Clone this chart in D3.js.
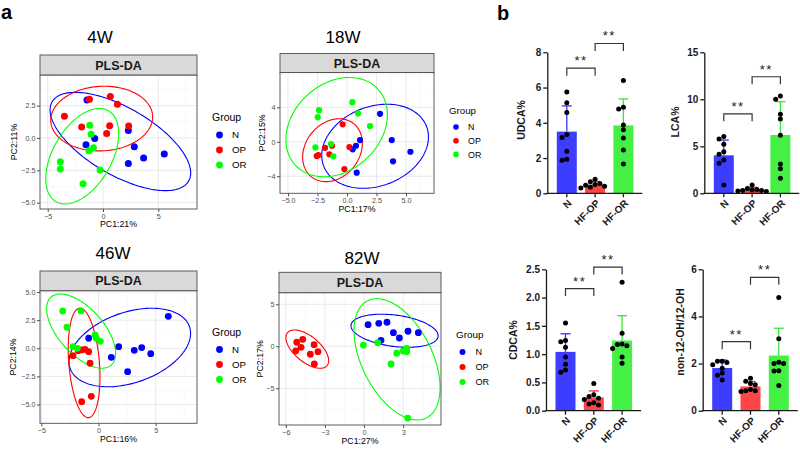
<!DOCTYPE html>
<html><head><meta charset="utf-8">
<script src="https://cdn.jsdelivr.net/npm/d3@7"></script>
<style>body{margin:0;background:#fff} svg{font-family:"Liberation Sans",Arial,sans-serif}</style>
</head><body><svg id="c" width="800" height="450"></svg>
<script>
// ---------------- DATA ----------------
const groupNames = ["N", "OP", "OR"];
const groupColors = ["#0000ff", "#ff0000", "#00ff00"];

// PLS-DA scores (PC1, PC2)
const w4N  = [[-1.45,2.94],[-0.75,-0.03],[-1.54,-0.52],[2.29,0.57],[2.83,-0.67],[3.67,-1.55],[2.29,-1.98],[5.54,-1.24]];
const w4OP = [[-1.23,2.99],[0.66,3.2],[1.3,2.6],[-3.49,1.68],[-1.93,0.85],[0.6,0.95],[0.33,0.34],[2.32,0.93]];
const w4OR = [[-1.2,0.98],[-1.08,0.28],[-0.87,-0.75],[-1.27,-0.98],[-3.86,-1.83],[-3.86,-2.4],[-0.27,-2.47],[-1.81,-3.53]];
// ellipse summaries: [centre x, centre y, half-width, half-height, correlation]
const w4Ell = [[1.57,-0.27,6.36,3.8,-0.64],[-0.12,1.5,4.61,2.5,0.05],[-1.88,-1.41,3.3,3.69,0.47]];

const w18N  = [[2.8,3.24],[1.1,0.2],[0.76,-0.46],[0.48,-0.88],[3.79,0.2],[5.37,-1.16],[3.9,-2.27],[0.82,-3.59]];
const w18OP = [[-0.37,2.02],[0.2,-0.61],[-1.86,-0.7],[-1.27,-0.46],[-1.5,-1.46],[-2.43,-1.54],[-2.57,-1.66],[-0.23,-3.16]];
const w18OR = [[0.45,4.6],[-2.37,3.67],[-2.48,2.86],[0.93,3.29],[1.95,1.82],[-2.68,-0.65],[-1.36,-0.27],[-1.16,-1.69]];
const w18Ell = [[2.38,-0.52,4.52,4.88,0.22],[-1.23,-0.98,2.53,3.65,0.22],[-0.88,1.7,4.3,5.76,0.25]];

const w46N  = [[6.11,2.84],[-0.86,0.89],[1.77,0.14],[1.12,-0.8],[3.13,-0.18],[3.78,0.06],[4.57,-0.48],[2.55,-2.08]];
const w46OP = [[-2.23,-0.66],[-1.5,-0.15],[-1.18,-0.09],[-0.86,-0.3],[-0.74,-1.33],[-1.47,-4.75],[-0.63,-4.27],[-1.77,-0.21]];
const w46OR = [[-3.13,3.32],[-1.53,3.32],[-2.76,1.87],[-2.23,0.14],[-1.85,0],[-0.31,1.18],[-0.19,0.89],[0.16,0.62]];
const w46Ell = [[2.74,0.07,5.32,3.49,0.36],[-1.26,-1.3,1.39,4.87,-0.26],[-1.52,1.53,3.02,3.3,-0.6]];

const w82N  = [[0.31,2.57],[1.13,2.74],[1.76,2.86],[2.25,1.62],[2.71,0.99],[3.37,1.79],[4.16,1.62],[1.3,0.71]];
const w82OP = [[-5.16,0.48],[-4.7,0.83],[-4.83,-0.12],[-5.24,-0.56],[-3.83,0.19],[-3.53,-0.64],[-4.12,-0.95],[-3.81,-2.11]];
const w82OR = [[-0.05,0.15],[1.05,0.43],[2.51,-0.83],[2.07,-2.11],[3.01,-0.56],[3.27,-0.24],[3.27,-0.64],[3.35,-8.54]];
const w82Ell = [[2.34,1.85,3.34,1.97,-0.3],[-4.35,-0.34,1.64,2.28,-0.6],[2.53,-1.55,3.3,7.22,-0.47]];

// tick values
const w4XTicks = [-5, 0, 5],   w4YTicks = [-5, -2.5, 0, 2.5];
const w18XTicks = [-5, -2.5, 0, 2.5, 5], w18YTicks = [-4, 0, 4];
const w46XTicks = [-5, 0, 5],  w46YTicks = [-5, -2.5, 0, 2.5, 5];
const w82XTicks = [-6, -3, 0, 3], w82YTicks = [-5, 0, 5];

// bile acid bars
const barCats = ["N", "HF-OP", "HF-OR"];
const udcaMean = [3.5, 0.5, 3.85], udcaSD = [1.46, 0.17, 1.5];
const udcaPts = [[5.75,5.14,4.59,3.33,3.16,2.38,1.93,1.87],[0.8,0.65,0.55,0.5,0.45,0.4,0.35,0.3],[6.4,4.88,4.78,3.88,3.6,3.14,2.46,1.66]];
const lcaMean = [4.04, 0.42, 6.2], lcaSD = [1.63, 0.22, 3.55];
const lcaPts = [[6.03,5.78,5.21,4.43,4.15,3.55,3.19,0.89],[0.89,0.5,0.4,0.35,0.3,0.3,0.25,0.2],[10.35,10.0,8.4,7.9,6.17,3.12,2.62,1.6]];
const cdcaMean = [1.04, 0.235, 1.24], cdcaSD = [0.32, 0.115, 0.44];
const cdcaPts = [[1.55,1.24,1.22,1.12,0.95,0.82,0.72,0.68],[0.48,0.28,0.25,0.22,0.2,0.14,0.12,0.1],[2.27,1.37,1.18,1.17,1.15,1.1,0.95,0.84]];
const ratioMean = [1.81, 1.03, 2.34], ratioSD = [0.34, 0.21, 1.16];
const ratioPts = [[2.1,2.1,2.05,1.95,1.8,1.6,1.5,1.3],[1.38,1.25,1.15,1.1,0.9,0.85,0.85,0.82],[4.8,3.05,2.06,2.0,2.0,1.7,1.68,1.07]];
const udcaTicks = [0,2,4,6,8], lcaTicks = [0,5,10,15], cdcaTicks = [0,0.5,1,1.5,2,2.5], ratioTicks = [0,2,4,6];
// significance brackets: [group a, group b, height]
const udcaSig = [[0,1,7.1],[1,2,8.5]];
const lcaSig = [[0,1,8.45],[1,2,12.4]];
const cdcaSig = [[0,1,2.16],[1,2,2.54]];
const ratioSig = [[0,1,2.93],[1,2,5.66]];

// ---------------- DRAW ----------------
const svg = d3.select("#c");
svg.append("rect").attr("width",800).attr("height",450).attr("fill","#fff");
let clipId = 0;

function drawPLS(c) {
  const g = svg.append("g");
  const x = d3.scaleLinear().domain(c.xd).range([c.left, c.right]);
  const y = d3.scaleLinear().domain(c.yd).range([c.bottom, c.top]);
  const id = "clip" + (clipId++);
  g.append("clipPath").attr("id", id).append("rect")
    .attr("x", c.left).attr("y", c.top).attr("width", c.right - c.left).attr("height", c.bottom - c.top);
  const xs = c.xt[1] - c.xt[0], ys = c.yt[1] - c.yt[0];
  const minor = (t, s, d) => {
    const out = [];
    for (let v = t[0] - s / 2 - 4 * s; v <= t[t.length - 1] + 4 * s; v += s) if (v > d[0] && v < d[1]) out.push(v);
    return out;
  };
  const major = (t, s, d) => {
    const out = [];
    for (let v = t[0] - 4 * s; v <= t[t.length - 1] + 4 * s + 1e-9; v += s) if (v > d[0] && v < d[1]) out.push(v);
    return out;
  };
  const grid = g.append("g");
  minor(c.xt, xs, c.xd).forEach(v => grid.append("line").attr("x1", x(v)).attr("x2", x(v)).attr("y1", c.top).attr("y2", c.bottom).attr("stroke", "#f2f2f2").attr("stroke-width", 0.5));
  minor(c.yt, ys, c.yd).forEach(v => grid.append("line").attr("y1", y(v)).attr("y2", y(v)).attr("x1", c.left).attr("x2", c.right).attr("stroke", "#f2f2f2").attr("stroke-width", 0.5));
  major(c.xt, xs, c.xd).forEach(v => grid.append("line").attr("x1", x(v)).attr("x2", x(v)).attr("y1", c.top).attr("y2", c.bottom).attr("stroke", "#e6e6e6").attr("stroke-width", 0.9));
  major(c.yt, ys, c.yd).forEach(v => grid.append("line").attr("y1", y(v)).attr("y2", y(v)).attr("x1", c.left).attr("x2", c.right).attr("stroke", "#e6e6e6").attr("stroke-width", 0.9));

  const inner = g.append("g").attr("clip-path", "url(#" + id + ")");
  const line = d3.line().x(d => x(d[0])).y(d => y(d[1]));
  c.ell.forEach((e, i) => {
    const phi = Math.acos(e[4]);
    const pts = d3.range(0, 2 * Math.PI + 0.001, Math.PI / 90).map(t => [e[0] + e[2] * Math.cos(t), e[1] + e[3] * Math.cos(t + phi)]);
    inner.append("path").attr("d", line(pts)).attr("fill", "none").attr("stroke", groupColors[i]).attr("stroke-width", 1.1);
  });
  c.pts.forEach((arr, i) => {
    inner.selectAll(null).data(arr).enter().append("circle")
      .attr("cx", d => x(d[0])).attr("cy", d => y(d[1])).attr("r", c.pr).attr("fill", groupColors[i]);
  });
  g.append("rect").attr("x", c.left).attr("y", c.top).attr("width", c.right - c.left).attr("height", c.bottom - c.top)
    .attr("fill", "none").attr("stroke", "#4d4d4d").attr("stroke-width", 0.9);
  g.append("rect").attr("x", c.left).attr("y", c.stripTop).attr("width", c.right - c.left).attr("height", c.top - c.stripTop)
    .attr("fill", "#d9d9d9").attr("stroke", "#4d4d4d").attr("stroke-width", 0.9);
  g.append("text").attr("x", (c.left + c.right) / 2).attr("y", (c.top + c.stripTop) / 2).attr("dy", "0.36em")
    .attr("text-anchor", "middle").attr("font-weight", "bold").attr("font-size", 12.5).attr("fill", "#1a1a1a").text("PLS-DA");

  const ax = g.append("g").attr("transform", `translate(0,${c.bottom})`)
    .call(d3.axisBottom(x).tickValues(c.xt).tickSize(3).tickPadding(1.5).tickFormat(c.xf));
  const ay = g.append("g").attr("transform", `translate(${c.left},0)`)
    .call(d3.axisLeft(y).tickValues(c.yt).tickSize(3).tickPadding(1.5).tickFormat(c.yf));
  [ax, ay].forEach(a => {
    a.select(".domain").remove();
    a.selectAll("line").attr("stroke", "#4d4d4d");
    a.selectAll("text").attr("fill", "#4d4d4d").attr("font-size", 7.2).attr("font-family", "Liberation Sans, Arial, sans-serif");
  });
  g.append("text").attr("x", (c.left + c.right) / 2).attr("y", c.bottom + c.xtOff).attr("text-anchor", "middle")
    .attr("font-size", 8.8).attr("fill", "#000").text(c.xTitle);
  g.append("text").attr("transform", `translate(${c.ytX},${(c.top + c.bottom) / 2}) rotate(-90)`).attr("text-anchor", "middle")
    .attr("dy", "0.35em").attr("font-size", 8.8).attr("fill", "#000").text(c.yTitle);
  g.append("text").attr("x", c.tx).attr("y", c.ty).attr("dy", "0.36em").attr("text-anchor", "middle")
    .attr("font-size", 17).attr("fill", "#000").text(c.title);
  // legend
  const L = c.lg;
  g.append("text").attr("x", L.x).attr("y", L.y).attr("dy", "0.35em").attr("font-size", L.fs).attr("fill", "#000").text("Group");
  groupNames.forEach((n, i) => {
    const yy = L.y + L.first + i * L.gap;
    g.append("circle").attr("cx", L.x + L.dx).attr("cy", yy).attr("r", L.r).attr("fill", groupColors[i]);
    g.append("text").attr("x", L.x + L.tx).attr("y", yy).attr("dy", "0.35em").attr("font-size", L.fs - 0.8).attr("fill", "#000").text(n);
  });
}

const f1 = d3.format(".1f"), f0 = d => d3.format("d")(d).replace("-", "\u2212");
const f1m = d => f1(d).replace("-", "\u2212");

drawPLS({title: "4W", tx: 100, ty: 37, left: 40, right: 197, stripTop: 55, top: 75, bottom: 209,
  xd: [-5.7, 8.5], yd: [-5.49, 4.87], xt: w4XTicks, yt: w4YTicks, xf: f0, yf: f1m,
  xTitle: "PC1:21%", yTitle: "PC2:11%", ytX: 14, xtOff: 18,
  pts: [w4N, w4OP, w4OR], ell: w4Ell, pr: 3.5,
  lg: {x: 212, y: 117, first: 18, gap: 15, dx: 7.5, tx: 20, r: 3.4, fs: 10.5}});

drawPLS({title: "18W", tx: 343, ty: 36.5, left: 280, right: 434, stripTop: 53.5, top: 72.5, bottom: 193.3,
  xd: [-5.68, 7.37], yd: [-5.98, 8.04], xt: w18XTicks, yt: w18YTicks, xf: f1m, yf: f0,
  xTitle: "PC1:17%", yTitle: "PC2:15%", ytX: 262, xtOff: 19,
  pts: [w18N, w18OP, w18OR], ell: w18Ell, pr: 3.1,
  lg: {x: 449, y: 111, first: 16, gap: 13.7, dx: 7, tx: 19, r: 2.8, fs: 9.7}});

drawPLS({title: "46W", tx: 113, ty: 253, left: 40, right: 197, stripTop: 271, top: 290.7, bottom: 423.3,
  xd: [-5.12, 8.62], yd: [-6.67, 5.12], xt: w46XTicks, yt: w46YTicks, xf: f0, yf: f1m,
  xTitle: "PC1:16%", yTitle: "PC2:14%", ytX: 13, xtOff: 19,
  pts: [w46N, w46OP, w46OR], ell: w46Ell, pr: 3.4,
  lg: {x: 212, y: 332, first: 17.5, gap: 15, dx: 7.5, tx: 20, r: 3.4, fs: 10.5}});

drawPLS({title: "82W", tx: 362, ty: 258, left: 279, right: 441, stripTop: 272.3, top: 292.7, bottom: 425,
  xd: [-6.52, 5.9], yd: [-9.37, 6.38], xt: w82XTicks, yt: w82YTicks, xf: f0, yf: f0,
  xTitle: "PC1:27%", yTitle: "PC2:17%", ytX: 260, xtOff: 18.5,
  pts: [w82N, w82OP, w82OR], ell: w82Ell, pr: 3.4,
  lg: {x: 456, y: 335, first: 17, gap: 15, dx: 6.5, tx: 19.5, r: 3.0, fs: 9.9}});

// ---------------- BAR PANELS ----------------
const barFill = ["#3d3dff", "#ff4545", "#45f045"];
const errCol = ["#3333ff", "#ff3030", "#33e833"];

function swarm(vals, ys, r) {
  const placed = [], offs = new Array(vals.length).fill(0);
  const order = vals.map((v, i) => i).sort((a, b) => vals[b] - vals[a]);
  const step = r * 1.9;
  order.forEach(i => {
    const py = ys(vals[i]);
    for (const k of [0, -1, 1, -2, 2, -3, 3]) {
      const px = k * step;
      if (placed.every(p => Math.hypot(p[0] - px, p[1] - py) >= r * 1.85)) { offs[i] = px; placed.push([px, py]); break; }
    }
  });
  return offs;
}

function drawBars(c) {
  const g = svg.append("g");
  const y = d3.scaleLinear().domain([0, c.max]).range([c.y0, c.yTop]);
  const x = d3.scalePoint().domain(barCats).range([c.axisX + 19.5, c.axisX + 19.5 + 56.6]);
  const bw = 20;
  barCats.forEach((cat, i) => {
    const cx = x(cat);
    g.append("rect").attr("x", cx - bw / 2).attr("y", y(c.mean[i])).attr("width", bw).attr("height", c.y0 - y(c.mean[i]))
      .attr("fill", barFill[i]);
    const top = y(c.mean[i] + c.sd[i]);
    g.append("line").attr("x1", cx).attr("x2", cx).attr("y1", y(c.mean[i])).attr("y2", top).attr("stroke", errCol[i]).attr("stroke-width", 1.3);
    g.append("line").attr("x1", cx - 5).attr("x2", cx + 5).attr("y1", top).attr("y2", top).attr("stroke", errCol[i]).attr("stroke-width", 1.3);
    const offs = swarm(c.pts[i], y, 2.5);
    g.selectAll(null).data(c.pts[i]).enter().append("circle")
      .attr("cx", (d, j) => cx + offs[j]).attr("cy", d => y(d)).attr("r", 2.5).attr("fill", "#000");
  });
  const ay = g.append("g").attr("transform", `translate(${c.axisX},0)`)
    .call(d3.axisLeft(y).tickValues(c.ticks).tickSize(4).tickPadding(2).tickFormat(c.fmt).tickSizeOuter(0));
  ay.select(".domain").attr("stroke", "#1a1a1a").attr("stroke-width", 1.3);
  ay.selectAll("line").attr("stroke", "#1a1a1a").attr("stroke-width", 1.3);
  ay.selectAll("text").attr("font-weight", "bold").attr("font-size", 10).attr("fill", "#1a1a1a").attr("font-family", "Liberation Sans, Arial, sans-serif");
  g.append("line").attr("x1", c.axisX - 0.65).attr("x2", c.axisX + 95).attr("y1", c.y0).attr("y2", c.y0).attr("stroke", "#1a1a1a").attr("stroke-width", 1.3);
  barCats.forEach(cat => {
    const cx = x(cat);
    g.append("line").attr("x1", cx).attr("x2", cx).attr("y1", c.y0).attr("y2", c.y0 + 4).attr("stroke", "#1a1a1a").attr("stroke-width", 1.3);
    g.append("text").attr("transform", `translate(${cx + 3},${c.y0 + 8}) rotate(-45)`).attr("text-anchor", "end")
      .attr("dy", "0.35em").attr("font-weight", "bold").attr("font-size", 10).attr("fill", "#1a1a1a").text(cat);
  });
  c.sig.forEach(s => {
    const xa = x(barCats[s[0]]), xb = x(barCats[s[1]]), yy = y(s[2]);
    g.append("path").attr("d", `M${xa},${yy + 7.5}V${yy}H${xb}V${yy + 7.5}`).attr("fill", "none").attr("stroke", "#333").attr("stroke-width", 1.2);
    g.append("text").attr("x", (xa + xb) / 2).attr("y", yy - 3).attr("text-anchor", "middle").attr("font-size", 13)
      .attr("letter-spacing", "1.5px").attr("fill", "#222").text("**");
  });
  g.append("text").attr("transform", `translate(${c.ytX},${c.ytY}) rotate(-90)`).attr("text-anchor", "middle")
    .attr("dy", "0.35em").attr("font-weight", "bold").attr("font-size", 10.5).attr("fill", "#1a1a1a").text(c.yTitle);
}

const fb = d => d3.format("d")(d);
drawBars({axisX: 547.3, y0: 193.3, yTop: 52.3, max: 8, ticks: udcaTicks, fmt: fb, mean: udcaMean, sd: udcaSD, pts: udcaPts, sig: udcaSig, yTitle: "UDCA%", ytX: 521.5, ytY: 120});
drawBars({axisX: 704.3, y0: 193.3, yTop: 52.3, max: 15, ticks: lcaTicks, fmt: fb, mean: lcaMean, sd: lcaSD, pts: lcaPts, sig: lcaSig, yTitle: "LCA%", ytX: 675, ytY: 122});
drawBars({axisX: 546, y0: 410.7, yTop: 269.3, max: 2.5, ticks: cdcaTicks, fmt: d3.format(".1f"), mean: cdcaMean, sd: cdcaSD, pts: cdcaPts, sig: cdcaSig, yTitle: "CDCA%", ytX: 513.5, ytY: 340});
drawBars({axisX: 702.7, y0: 410.7, yTop: 269.3, max: 6, ticks: ratioTicks, fmt: fb, mean: ratioMean, sd: ratioSD, pts: ratioPts, sig: ratioSig, yTitle: "non-12-OH/12-OH", ytX: 680, ytY: 332});

svg.append("text").attr("x", 1).attr("y", 19).attr("font-weight", "bold").attr("font-size", 20).attr("fill", "#000").text("a");
svg.append("text").attr("x", 497).attr("y", 19.5).attr("font-weight", "bold").attr("font-size", 20).attr("fill", "#000").text("b");
</script></body></html>
